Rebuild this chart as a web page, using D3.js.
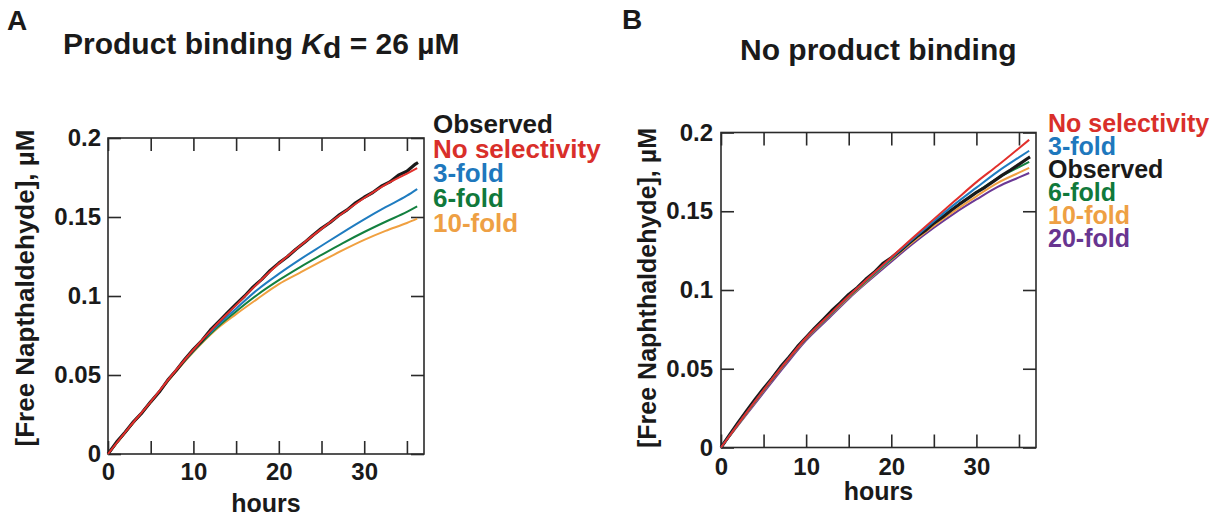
<!DOCTYPE html>
<html>
<head>
<meta charset="utf-8">
<script src="https://cdn.jsdelivr.net/npm/d3@7"></script>
<style>
  html, body { margin: 0; padding: 0; background: #fff; }
  svg text { font-family: "Liberation Sans", Arial, Helvetica, sans-serif; font-weight: bold; }
</style>
</head>
<body>
<svg id="fig" width="1226" height="518"></svg>
<script>
// time points (hours)
var hoursModel = [0, 2.5, 5, 7.5, 10, 12.5, 15, 17.5, 20, 22.5, 25, 27.5, 30, 32.5, 35, 36.2];
var hoursObs = [0, 1, 2, 3, 4, 5, 6, 7, 8, 9, 10, 11, 12, 13, 14, 15, 16, 17, 18, 19, 20,
                21, 22, 23, 24, 25, 26, 27, 28, 29, 30, 31, 32, 33, 34, 35, 36, 36.3];

// panel A - product binding Kd = 26 uM
var obsA = [0, .0075, .0138, .0205, .0262, .0330, .0392, .0468, .0530, .0600, .0662, .0718, .0785,
            .0840, .0895, .0948, .1000, .1058, .1105, .1162, .1208, .1248, .1296, .1338, .1385,
            .1428, .1465, .1510, .1545, .1590, .1625, .1655, .1695, .1722, .1765, .1790, .1835, .1845];
var noSelA  = [0, .0170, .0330, .0500, .0660, .0808, .0942, .1078, .1205, .1318, .1425, .1525, .1620, .1705, .1775, .1810];
var fold3A  = [0, .0170, .0330, .0498, .0655, .0797, .0920, .1040, .1140, .1232, .1318, .1403, .1485, .1562, .1635, .1677];
var fold6A  = [0, .0168, .0328, .0495, .0650, .0787, .0902, .1008, .1100, .1183, .1260, .1335, .1405, .1470, .1532, .1567];
var fold10A = [0, .0166, .0326, .0492, .0645, .0780, .0885, .0982, .1075, .1148, .1220, .1290, .1355, .1412, .1462, .1490];

// panel B - no product binding
var obsB = [0, .0080, .0158, .0232, .0305, .0375, .0440, .0512, .0575, .0642, .0700, .0758, .0812,
            .0868, .0918, .0972, .1015, .1068, .1112, .1168, .1205, .1248, .1295, .1340, .1378,
            .1425, .1462, .1505, .1545, .1582, .1620, .1652, .1690, .1728, .1762, .1798, .1835, .1845];
var noSelB  = [0, .0185, .0365, .0535, .0697, .0830, .0962, .1085, .1207, .1330, .1450, .1568, .1685, .1790, .1900, .1954];
var fold3B  = [0, .0185, .0365, .0535, .0696, .0828, .0960, .1082, .1202, .1322, .1437, .1547, .1650, .1752, .1842, .1884];
var fold6B  = [0, .0182, .0362, .0532, .0693, .0825, .0957, .1078, .1196, .1313, .1422, .1525, .1620, .1710, .1780, .1813];
var fold10B = [0, .0180, .0360, .0530, .0690, .0822, .0953, .1073, .1190, .1303, .1408, .1505, .1595, .1680, .1745, .1775];
var fold20B = [0, .0175, .0348, .0518, .0680, .0812, .0945, .1065, .1180, .1292, .1395, .1490, .1575, .1655, .1715, .1743];

var xTicks = [0, 5, 10, 15, 20, 25, 30, 35],
    xTickLabels = [0, 10, 20, 30],
    yTicks = [0, 0.05, 0.1, 0.15, 0.2];

var legendA = ['Observed', 'No selectivity', '3-fold', '6-fold', '10-fold'],
    legendB = ['No selectivity', '3-fold', 'Observed', '6-fold', '10-fold', '20-fold'];

var col = {
    obs: '#1a1a1a', noSel: '#e2302c', f3: '#1f7cc0', f6: '#13803f', f10: '#f0a040', f20: '#6b3895'
};
var legCol = {
    'Observed': '#1a1a1a', 'No selectivity': '#d92f2a', '3-fold': '#1e78bd',
    '6-fold': '#10793b', '10-fold': '#eea044', '20-fold': '#683590'
};

var svg = d3.select('#fig');

function drawPanel(p) {
    var x = d3.scaleLinear().domain([0, 37]).range([p.left, p.right]),
        y = d3.scaleLinear().domain([0, 0.2]).range([p.bottom, p.top]);
    var g = svg.append('g');

    // inward ticks on all four sides
    var tk = 13;
    g.append('g').attr('transform', 'translate(0,' + p.bottom + ')')
        .call(d3.axisBottom(x).tickValues(xTicks).tickSize(-tk).tickPadding(p.xPad)
            .tickFormat(function(d) { return xTickLabels.indexOf(d) >= 0 ? d : ''; }));
    g.append('g').attr('transform', 'translate(0,' + p.top + ')')
        .call(d3.axisTop(x).tickValues(xTicks).tickSize(-tk).tickFormat(''));
    g.append('g').attr('transform', 'translate(' + p.left + ',0)')
        .call(d3.axisLeft(y).tickValues(yTicks).tickSize(-tk).tickPadding(p.yPad)
            .tickFormat(function(d) { return d === 0 ? '0' : String(+d.toFixed(2)); }));
    g.append('g').attr('transform', 'translate(' + p.right + ',0)')
        .call(d3.axisRight(y).tickValues(yTicks).tickSize(-tk).tickFormat(''));
    g.selectAll('.domain').remove();
    g.selectAll('.tick line').attr('stroke', '#2a2a2a').attr('stroke-width', 1.6);
    g.selectAll('.tick text').attr('fill', '#1a1a1a').attr('font-size', 24);

    g.append('rect')
        .attr('x', p.left).attr('y', p.top)
        .attr('width', p.right - p.left).attr('height', p.bottom - p.top)
        .attr('fill', 'none').attr('stroke', '#2a2a2a').attr('stroke-width', 1.6);

    var lineM = d3.line().curve(d3.curveMonotoneX)
        .x(function(d, i) { return x(hoursModel[i]); })
        .y(function(d) { return y(d); });
    var lineO = d3.line()
        .x(function(d, i) { return x(hoursObs[i]); })
        .y(function(d) { return y(d); });

    p.series.forEach(function(s) {
        g.append('path')
            .attr('d', s.obs ? lineO(s.values) : lineM(s.values))
            .attr('fill', 'none')
            .attr('stroke', s.color)
            .attr('stroke-width', s.obs ? 3.2 : 2)
            .attr('stroke-linejoin', 'round');
    });

    // axis titles
    g.append('text')
        .attr('x', (p.left + p.right) / 2).attr('y', p.xTitleY)
        .attr('text-anchor', 'middle').attr('font-size', 25).attr('fill', '#1a1a1a')
        .text('hours');
    g.append('text')
        .attr('transform', 'translate(' + p.yTitleX + ',' + p.yTitleMid + ') rotate(-90)')
        .attr('text-anchor', 'middle').attr('font-size', p.yTitleSize).attr('fill', '#1a1a1a')
        .text(p.yTitle);

    // legend
    g.selectAll('.leg').data(p.legend).enter().append('text')
        .attr('x', p.legX).attr('y', function(d, i) { return p.legY + i * p.legStep; })
        .attr('font-size', p.legSize)
        .attr('fill', function(d) { return legCol[d]; })
        .text(function(d) { return d; });
    return g;
}

drawPanel({
    left: 108, right: 424, top: 138, bottom: 454, xPad: 9, yPad: 7,
    xTitleY: 512, yTitleX: 34, yTitleMid: 288, yTitleSize: 26, yTitle: '[Free Napthaldehyde], µM',
    legend: legendA, legX: 433, legY: 133, legStep: 24.7, legSize: 26,
    series: [
        {values: fold10A, color: col.f10},
        {values: fold6A, color: col.f6},
        {values: fold3A, color: col.f3},
        {values: obsA, color: col.obs, obs: true},
        {values: noSelA, color: col.noSel}
    ]
});

drawPanel({
    left: 721, right: 1036, top: 132.5, bottom: 447.5, xPad: 10, yPad: 8,
    xTitleY: 500, yTitleX: 656, yTitleMid: 288, yTitleSize: 25, yTitle: '[Free Naphthaldehyde], µM',
    legend: legendB, legX: 1048, legY: 132, legStep: 22.9, legSize: 25,
    series: [
        {values: fold20B, color: col.f20},
        {values: fold10B, color: col.f10},
        {values: fold6B, color: col.f6},
        {values: obsB, color: col.obs, obs: true},
        {values: fold3B, color: col.f3},
        {values: noSelB, color: col.noSel}
    ]
});

// panel letters and titles
svg.append('text').attr('x', 7).attr('y', 30).attr('font-size', 28).attr('fill', '#1a1a1a').text('A');
svg.append('text').attr('x', 622).attr('y', 29).attr('font-size', 28).attr('fill', '#1a1a1a').text('B');

var tA = svg.append('text').attr('x', 63).attr('y', 54).attr('font-size', 30).attr('fill', '#1a1a1a');
tA.append('tspan').text('Product binding ');
tA.append('tspan').attr('font-style', 'italic').text('K');
tA.append('tspan').attr('dy', 4).text('d');
tA.append('tspan').attr('dy', -4).text(' = 26 µM');

svg.append('text').attr('x', 740).attr('y', 60).attr('font-size', 30).attr('fill', '#1a1a1a')
    .text('No product binding');
</script>
</body>
</html>
